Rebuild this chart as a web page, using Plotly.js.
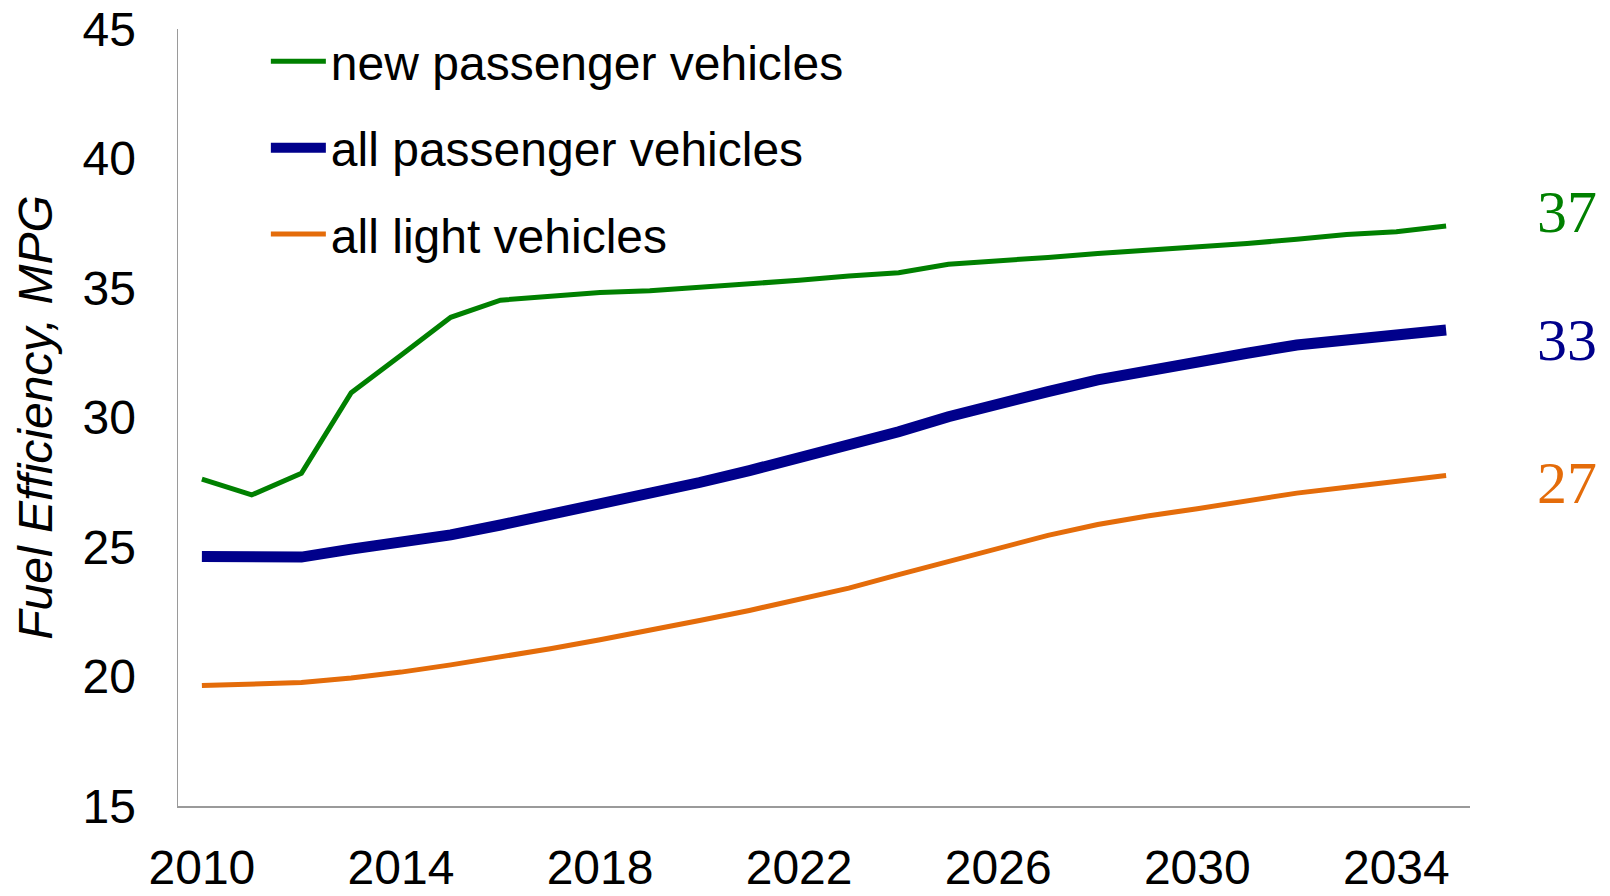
<!DOCTYPE html>
<html>
<head>
<meta charset="utf-8">
<script src="https://cdn.plot.ly/plotly-3.0.1.min.js"></script>
<style>
  html, body { margin: 0; padding: 0; background: #ffffff; }
  #chart { width: 1610px; height: 896px; }
</style>
</head>
<body>
<div id="chart"></div>
<script>
const years = [2010, 2011, 2012, 2013, 2014, 2015, 2016, 2017, 2018, 2019, 2020, 2021, 2022,
               2023, 2024, 2025, 2026, 2027, 2028, 2029, 2030, 2031, 2032, 2033, 2034, 2035];

const newPassenger = [27.62, 27.01, 27.85, 30.96, 32.40, 33.87, 34.53, 34.70, 34.83, 34.89,
                      35.02, 35.15, 35.30, 35.46, 35.59, 35.92, 36.04, 36.18, 36.33, 36.46,
                      36.57, 36.72, 36.88, 37.07, 37.17, 37.39];

const allPassenger = [24.63, 24.59, 24.61, 24.92, 25.15, 25.47, 25.85, 26.24, 26.63, 27.08,
                      27.49, 27.95, 28.43, 28.94, 29.45, 30.03, 30.55, 31.00, 31.45, 31.82,
                      32.12, 32.48, 32.80, 33.02, 33.18, 33.38];

const allLight = [19.65, 19.71, 19.77, 19.94, 20.17, 20.45, 20.75, 21.07, 21.42, 21.78,
                  22.16, 22.55, 22.96, 23.41, 23.93, 24.44, 24.96, 25.45, 25.87, 26.20,
                  26.48, 26.79, 27.08, 27.31, 27.53, 27.76];

const seriesNames = ["new passenger vehicles", "all passenger vehicles", "all light vehicles"];
const endLabels = ["37", "33", "27"];
const yTickVals = [15, 20, 25, 30, 35, 40, 45];
const xTickVals = [2010, 2014, 2018, 2022, 2026, 2030, 2034];

const colors = ["#008000", "#00008B", "#E46C0A"];
const widths = [5, 11, 5];
const labelOffsets = [0.55, -0.38, -0.28];
const seriesData = [newPassenger, allPassenger, allLight];

const traces = seriesData.map((vals, i) => ({
  x: years,
  y: vals,
  type: "scatter",
  mode: "lines",
  name: seriesNames[i],
  legendgroup: "g" + i,
  line: { color: colors[i], width: widths[i] },
  hoverinfo: "x+y+name"
}));

const annotations = seriesData.map((vals, i) => ({
  xref: "paper", yref: "y",
  x: 1.075,
  y: vals[vals.length - 1] + labelOffsets[i],
  text: endLabels[i],
  showarrow: false,
  xanchor: "center", yanchor: "middle",
  font: { family: "Liberation Serif, Times New Roman, serif", size: 60, color: colors[i] }
}));

const axisFont = { family: "Liberation Sans, Arial, sans-serif", size: 48, color: "#000000" };

const layout = {
  width: 1610,
  height: 896,
  margin: { l: 178, r: 140, t: 29, b: 90, pad: 0 },
  paper_bgcolor: "#ffffff",
  plot_bgcolor: "#ffffff",
  font: axisFont,
  showlegend: true,
  legend: {
    x: 0.068, y: 1.007, xanchor: "left", yanchor: "top",
    bgcolor: "rgba(0,0,0,0)",
    borderwidth: 0,
    font: { family: "Liberation Sans, Arial, sans-serif", size: 48, color: "#000000" },
    itemwidth: 55,
    tracegroupgap: 21,
    traceorder: "grouped"
  },
  xaxis: {
    range: [2009.52, 2035.48],
    tickmode: "array",
    tickvals: xTickVals,
    ticktext: xTickVals.map(String),
    showgrid: false,
    zeroline: false,
    showline: true,
    linecolor: "#9a9a9a",
    linewidth: 1.5,
    ticks: "",
    tickfont: axisFont,
    ticklabelstandoff: 19,
    fixedrange: true
  },
  yaxis: {
    range: [15, 45],
    tickmode: "array",
    tickvals: yTickVals,
    ticktext: yTickVals.map(String),
    showgrid: false,
    zeroline: false,
    showline: true,
    linecolor: "#9a9a9a",
    linewidth: 1.5,
    ticks: "",
    tickfont: axisFont,
    ticklabelstandoff: 31,
    title: {
      text: "Fuel Efficiency, MPG",
      font: { family: "Liberation Sans, Arial, sans-serif", size: 48, color: "#000000", style: "italic" },
      standoff: 14
    },
    fixedrange: true
  },
  annotations: annotations
};

Plotly.newPlot("chart", traces, layout, { displayModeBar: false, staticPlot: true });
</script>
</body>
</html>
